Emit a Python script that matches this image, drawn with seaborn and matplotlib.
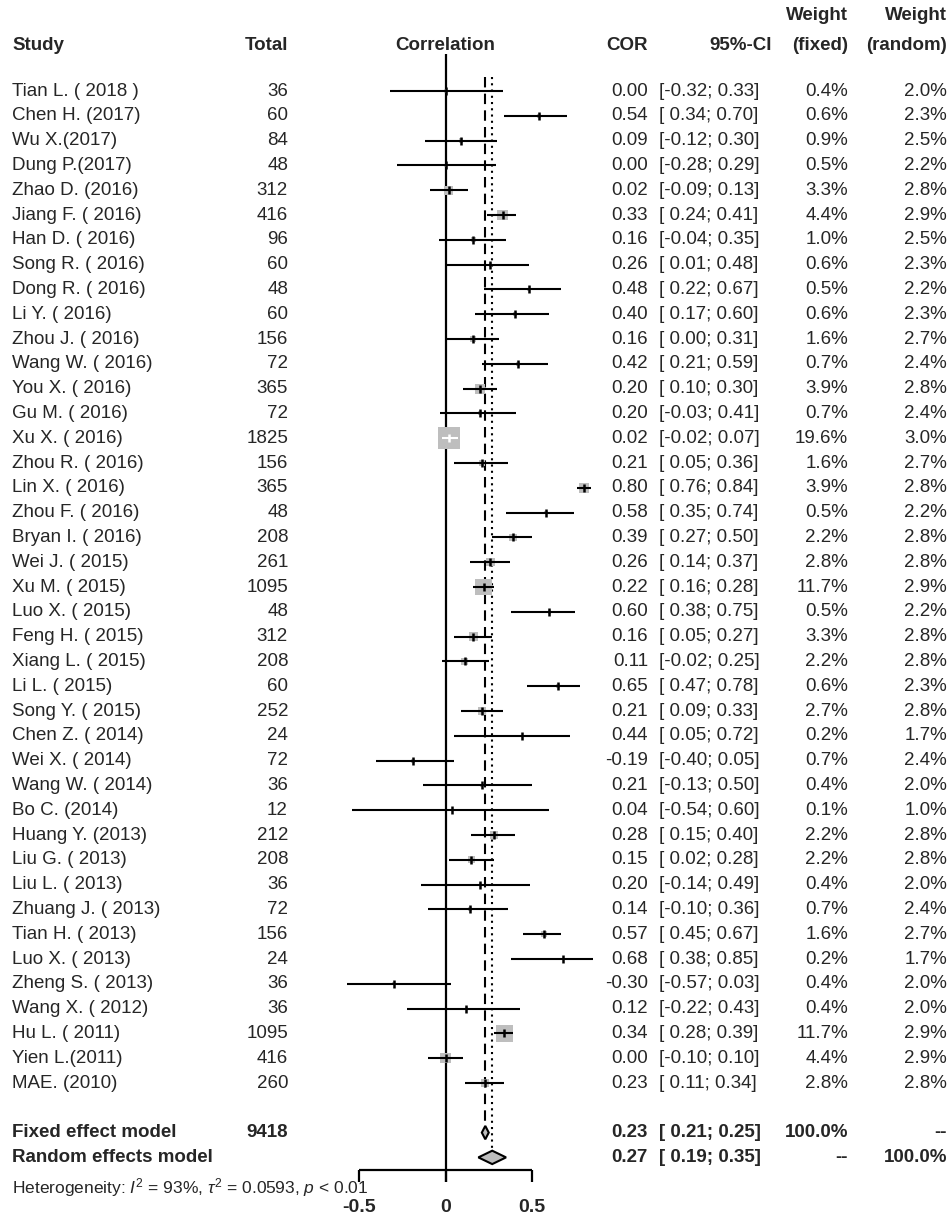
import numpy as np
import pandas as pd
import matplotlib
matplotlib.use("Agg")
import matplotlib.pyplot as plt
import seaborn as sns
from matplotlib.patches import Polygon

# ---- data ----
studies = [
    "Tian L. ( 2018 )", "Chen H. (2017)", "Wu X.(2017)", "Dung P.(2017)", "Zhao D. (2016)",
    "Jiang F. ( 2016)", "Han D. ( 2016)", "Song R. ( 2016)", "Dong R. ( 2016)", "Li Y. ( 2016)",
    "Zhou J. ( 2016)", "Wang W. ( 2016)", "You X. ( 2016)", "Gu M. ( 2016)", "Xu X. ( 2016)",
    "Zhou R. ( 2016)", "Lin X. ( 2016)", "Zhou F. ( 2016)", "Bryan I. ( 2016)", "Wei J. ( 2015)",
    "Xu M. ( 2015)", "Luo X. ( 2015)", "Feng H. ( 2015)", "Xiang L. ( 2015)", "Li L. ( 2015)",
    "Song Y. ( 2015)", "Chen Z. ( 2014)", "Wei X. ( 2014)", "Wang W. ( 2014)", "Bo C. (2014)",
    "Huang Y. (2013)", "Liu G. ( 2013)", "Liu L. ( 2013)", "Zhuang J. ( 2013)", "Tian H. ( 2013)",
    "Luo X. ( 2013)", "Zheng S. ( 2013)", "Wang X. ( 2012)", "Hu L. ( 2011)", "Yien L.(2011)",
    "MAE. (2010)",
]
total = [36, 60, 84, 48, 312, 416, 96, 60, 48, 60, 156, 72, 365, 72, 1825, 156, 365, 48, 208,
         261, 1095, 48, 312, 208, 60, 252, 24, 72, 36, 12, 212, 208, 36, 72, 156, 24, 36, 36,
         1095, 416, 260]
cor = [0.00, 0.54, 0.09, 0.00, 0.02, 0.33, 0.16, 0.26, 0.48, 0.40, 0.16, 0.42, 0.20, 0.20,
       0.02, 0.21, 0.80, 0.58, 0.39, 0.26, 0.22, 0.60, 0.16, 0.11, 0.65, 0.21, 0.44, -0.19,
       0.21, 0.04, 0.28, 0.15, 0.20, 0.14, 0.57, 0.68, -0.30, 0.12, 0.34, 0.00, 0.23]
ci_lo = [-0.32, 0.34, -0.12, -0.28, -0.09, 0.24, -0.04, 0.01, 0.22, 0.17, 0.00, 0.21, 0.10,
         -0.03, -0.02, 0.05, 0.76, 0.35, 0.27, 0.14, 0.16, 0.38, 0.05, -0.02, 0.47, 0.09, 0.05,
         -0.40, -0.13, -0.54, 0.15, 0.02, -0.14, -0.10, 0.45, 0.38, -0.57, -0.22, 0.28, -0.10,
         0.11]
ci_hi = [0.33, 0.70, 0.30, 0.29, 0.13, 0.41, 0.35, 0.48, 0.67, 0.60, 0.31, 0.59, 0.30, 0.41,
         0.07, 0.36, 0.84, 0.74, 0.50, 0.37, 0.28, 0.75, 0.27, 0.25, 0.78, 0.33, 0.72, 0.05,
         0.50, 0.60, 0.40, 0.28, 0.49, 0.36, 0.67, 0.85, 0.03, 0.43, 0.39, 0.10, 0.34]
w_fixed = [0.4, 0.6, 0.9, 0.5, 3.3, 4.4, 1.0, 0.6, 0.5, 0.6, 1.6, 0.7, 3.9, 0.7, 19.6, 1.6, 3.9,
           0.5, 2.2, 2.8, 11.7, 0.5, 3.3, 2.2, 0.6, 2.7, 0.2, 0.7, 0.4, 0.1, 2.2, 2.2, 0.4, 0.7,
           1.6, 0.2, 0.4, 0.4, 11.7, 4.4, 2.8]
w_random = [2.0, 2.3, 2.5, 2.2, 2.8, 2.9, 2.5, 2.3, 2.2, 2.3, 2.7, 2.4, 2.8, 2.4, 3.0, 2.7, 2.8,
            2.2, 2.8, 2.8, 2.9, 2.2, 2.8, 2.8, 2.3, 2.8, 1.7, 2.4, 2.0, 1.0, 2.8, 2.8, 2.0, 2.4,
            2.7, 1.7, 2.0, 2.0, 2.9, 2.9, 2.8]

pooled_labels = ["Fixed effect model", "Random effects model"]
pooled_total = ["9418", ""]
pooled_cor = [0.23, 0.27]
pooled_lo = [0.21, 0.19]
pooled_hi = [0.25, 0.35]
pooled_wf = ["100.0%", "--"]
pooled_wr = ["--", "100.0%"]

xticks = [-0.5, 0, 0.5]
heterogeneity = r"Heterogeneity: $I^2$ = 93%, $\tau^2$ = 0.0593, $p$ < 0.01"

df = pd.DataFrame({"study": studies, "total": total, "cor": cor, "lo": ci_lo, "hi": ci_hi,
                   "wf": w_fixed, "wr": w_random})
df["row"] = np.arange(len(df))
n = len(df)
pooled_rows = [n + 1, n + 2]

# ---- style ----
sns.set_style("white")
plt.rcParams['font.family'] = ['Liberation Sans', 'DejaVu Sans']
plt.rcParams['mathtext.fontset'] = 'custom'
plt.rcParams['mathtext.rm'] = 'Liberation Sans'
plt.rcParams['mathtext.it'] = 'Liberation Sans:italic'

W, H = 949, 1217
x0_px, px_per_unit = 445.5, 173.0
y0_px, px_per_row = 91.0, 24.8

fig = plt.figure(figsize=(W / 100, H / 100), dpi=100)
ax = fig.add_axes([0, 0, 1, 1])
ax.set_xlim(-x0_px / px_per_unit, (W - x0_px) / px_per_unit)
ax.set_ylim((H - y0_px) / px_per_row, -y0_px / px_per_row)
ax.axis('off')

# squares (area proportional to fixed weight)
k = 12.8
sns.scatterplot(data=df, x="cor", y="row", size="wf",
                sizes=(k * df.wf.min(), k * df.wf.max()), marker="s",
                color="#BEBEBE", linewidth=0, legend=False, ax=ax, zorder=2)

# CI lines: white when the whole interval lies inside the square
half_side = np.sqrt(k * df.wf) / 0.72 / px_per_unit / 2
inside = (df.cor - df.lo < half_side) & (df.hi - df.cor < half_side)
out = df[~inside]
ins = df[inside]
ax.hlines(out.row, out.lo, out.hi, color="black", lw=1.5, zorder=3)
ax.hlines(ins.row, ins.lo, ins.hi, color="white", lw=1.5, zorder=3)
ax.plot(out.cor, out.row, ls="none", marker="|", ms=6, mew=1.8, color="black", zorder=4)
ax.plot(ins.cor, ins.row, ls="none", marker="|", ms=6, mew=1.8, color="white", zorder=4)

# reference lines
dh = 0.27
ax.vlines(0, -1.5, pooled_rows[1] + 1.0, color="black", lw=1.6, zorder=1)
ax.vlines(pooled_cor[0], -0.55, pooled_rows[0] - dh, color="black", lw=1.5,
          linestyles=(0, (5, 3)), zorder=1)
ax.vlines(pooled_cor[1], -0.55, pooled_rows[1] - dh, color="black", lw=1.5,
          linestyles=(0, (1, 2)), zorder=1)

# pooled diamonds
for r, est, lo, hi in zip(pooled_rows, pooled_cor, pooled_lo, pooled_hi):
    ax.add_patch(Polygon([(lo, r), (est, r - dh), (hi, r), (est, r + dh)], closed=True,
                         facecolor="#BEBEBE", edgecolor="black", lw=1.5, zorder=5))

# x axis bracket
y_axis = pooled_rows[1] + 0.5
ax.hlines(y_axis, xticks[0], xticks[-1], color="black", lw=1.6)
ax.vlines(xticks, y_axis, y_axis + 0.5, color="black", lw=1.6)
for t in xticks:
    ax.text(t, y_axis + 1.5, f"{t:g}", ha="center", va="center", fontsize=14, fontweight="bold")

# ---- text columns ----
tr = ax.get_yaxis_transform()
c_study, c_total, c_cor, c_ci, c_wf, c_wr = 12 / W, 288 / W, 648 / W, 659 / W, 848 / W, 947 / W
c_ci_r = 772 / W
fs = 13.5
hdr = -1.85
hb = dict(fontsize=fs, fontweight="bold", va="center", transform=tr)
ax.text(c_study, hdr, "Study", ha="left", **hb)
ax.text(c_total, hdr, "Total", ha="right", **hb)
ax.text(0, hdr, "Correlation", ha="center", fontsize=fs, fontweight="bold", va="center")
ax.text(c_cor, hdr, "COR", ha="right", **hb)
ax.text(c_ci_r, hdr, "95%-CI", ha="right", **hb)
ax.text(c_wf, hdr - 1.2, "Weight", ha="right", **hb)
ax.text(c_wf, hdr, "(fixed)", ha="right", **hb)
ax.text(c_wr, hdr - 1.2, "Weight", ha="right", **hb)
ax.text(c_wr, hdr, "(random)", ha="right", **hb)

rb = dict(fontsize=fs, va="center", transform=tr)
for _, d in df.iterrows():
    r = d.row
    ax.text(c_study, r, d.study, ha="left", **rb)
    ax.text(c_total, r, f"{int(d.total)}", ha="right", **rb)
    ax.text(c_cor, r, f"{d.cor:.2f}", ha="right", **rb)
    ax.text(c_ci, r, f"[{d.lo:5.2f}; {d.hi:.2f}]", ha="left", **rb)
    ax.text(c_wf, r, f"{d.wf:.1f}%", ha="right", **rb)
    ax.text(c_wr, r, f"{d.wr:.1f}%", ha="right", **rb)

for i, r in enumerate(pooled_rows):
    ax.text(c_study, r, pooled_labels[i], ha="left", **hb)
    ax.text(c_total, r, pooled_total[i], ha="right", **hb)
    ax.text(c_cor, r, f"{pooled_cor[i]:.2f}", ha="right", **hb)
    ax.text(c_ci, r, f"[{pooled_lo[i]:5.2f}; {pooled_hi[i]:.2f}]", ha="left", **hb)
    ax.text(c_wf, r, pooled_wf[i], ha="right", **hb)
    ax.text(c_wr, r, pooled_wr[i], ha="right", **hb)

ax.text(c_study, pooled_rows[1] + 1.2, heterogeneity, ha="left", va="center",
        fontsize=12.5, transform=tr)

fig.savefig("out.png", dpi=100, facecolor="white")
